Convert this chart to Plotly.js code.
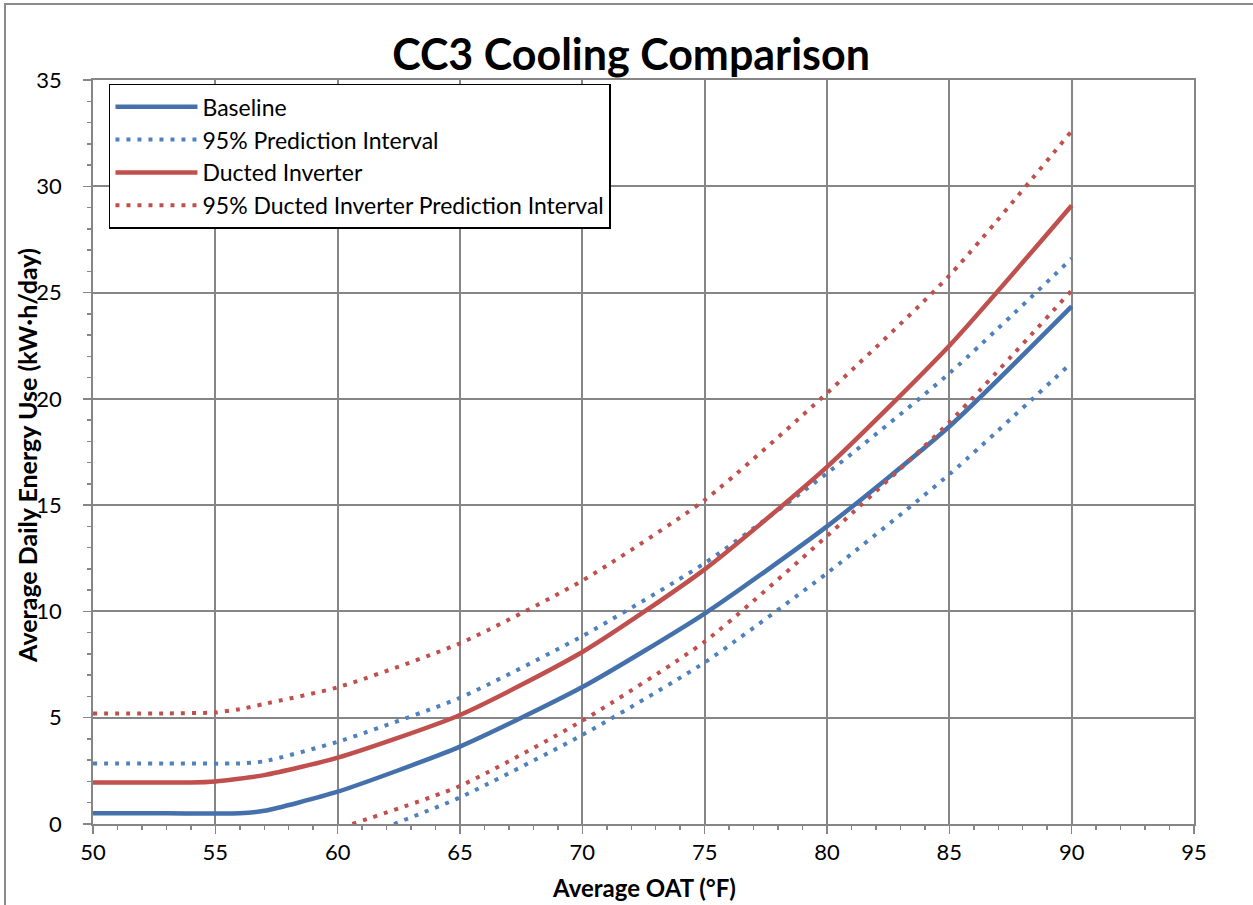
<!DOCTYPE html>
<html>
<head>
<meta charset="utf-8">
<script src="https://cdn.plot.ly/plotly-3.0.1.min.js"></script>
<style>
  html, body { margin: 0; padding: 0; background: #fff; }
  #wrap { position: relative; width: 1253px; height: 905px; overflow: hidden; }
  #frame { position: absolute; left: 4px; top: 3px; width: 1300px; height: 1000px;
           border-left: 2px solid #8a8a8a; border-top: 2px solid #8a8a8a; }
  #chart { position: absolute; left: 0; top: 0; width: 1253px; height: 905px; }
</style>
</head>
<body>
<div id="wrap">
  <div id="frame"></div>
  <div id="chart"></div>
</div>
<script>
// Data (Average OAT °F vs kW·h/day)
const baselineX = [50, 53, 56, 57, 60, 65, 70, 75, 80, 85, 90];
const baselineY = [0.5, 0.5, 0.5, 0.62, 1.52, 3.64, 6.44, 9.9, 14.0, 18.7, 24.35];

const basePIUpperX = [50, 53, 56, 57, 60, 65, 70, 75, 80, 85, 90];
const basePIUpperY = [2.85, 2.85, 2.85, 2.95, 3.87, 5.94, 8.84, 12.27, 16.5, 21.2, 26.6];

const basePILowerX = [62.3, 65, 70, 75, 80, 85, 90];
const basePILowerY = [0, 1.25, 4.19, 7.6, 11.8, 16.45, 21.7];

const ductedX = [50, 52, 54, 55, 57, 60, 65, 70, 75, 80, 85, 90];
const ductedY = [1.95, 1.95, 1.95, 2.0, 2.3, 3.12, 5.13, 8.09, 11.98, 16.8, 22.5, 29.1];

const ductPIUpperX = [50, 53, 55, 56, 57, 60, 65, 70, 75, 80, 85, 90];
const ductPIUpperY = [5.2, 5.2, 5.25, 5.4, 5.65, 6.43, 8.5, 11.45, 15.24, 20.27, 25.8, 32.6];

const ductPILowerX = [60.6, 65, 70, 75, 80, 85, 90];
const ductPILowerY = [0, 1.79, 4.86, 8.58, 13.55, 18.9, 25.1];

const seriesNames = ["Baseline", "95% Prediction Interval", "Ducted Inverter", "95% Ducted Inverter Prediction Interval"];
const chartTitle = "CC3 Cooling Comparison";
const xTitle = "Average OAT (°F)";
const yTitle = "Average Daily Energy Use (kW·h/day)";

const FONT = "Lato, 'Open Sans', sans-serif";
const blueSolid = "#4471AB";
const blueDot = "#4F81BD";
const red = "#C0504D";
const dotDash = "4px,7px";
const SM = 0.6;

const traces = [
  { x: baselineX, y: baselineY, name: seriesNames[0], mode: "lines",
    line: { color: blueSolid, width: 4.5, shape: "spline", smoothing: SM } },
  { x: basePIUpperX, y: basePIUpperY, name: seriesNames[1], mode: "lines",
    line: { color: blueDot, width: 4, dash: dotDash, shape: "spline", smoothing: SM } },
  { x: ductedX, y: ductedY, name: seriesNames[2], mode: "lines",
    line: { color: red, width: 4.5, shape: "spline", smoothing: SM } },
  { x: ductPIUpperX, y: ductPIUpperY, name: seriesNames[3], mode: "lines",
    line: { color: red, width: 4, dash: dotDash, shape: "spline", smoothing: SM } },
  { x: basePILowerX, y: basePILowerY, name: seriesNames[1], mode: "lines", showlegend: false,
    line: { color: blueDot, width: 4, dash: dotDash, shape: "spline", smoothing: SM } },
  { x: ductPILowerX, y: ductPILowerY, name: seriesNames[3], mode: "lines", showlegend: false,
    line: { color: red, width: 4, dash: dotDash, shape: "spline", smoothing: SM } }
];

const axisCommon = {
  showline: true, linecolor: "#868686", linewidth: 2, mirror: true,
  showgrid: true, gridcolor: "#868686", gridwidth: 2,
  ticks: "outside", ticklen: 8, tickwidth: 1.5, tickcolor: "#868686",
  tickfont: { family: FONT, size: 22, color: "#000" },
  zeroline: false,
  minor: { dtick: 1, ticks: "outside", ticklen: 4, tickwidth: 1.5, tickcolor: "#868686", showgrid: false }
};

const layout = {
  width: 1253, height: 905,
  paper_bgcolor: "rgba(0,0,0,0)", plot_bgcolor: "#fff",
  margin: { l: 93, r: 59, t: 80, b: 81 },
  font: { family: FONT, color: "#000" },
  title: { text: "<b>" + chartTitle + "</b>", font: { family: FONT, size: 43, color: "#000" },
           x: 0.4887, xref: "paper", xanchor: "center", y: 1, yref: "container", yanchor: "top", pad: { t: 40 } },
  xaxis: Object.assign({}, axisCommon, { range: [50, 95], dtick: 5, tick0: 50 }),
  yaxis: Object.assign({}, axisCommon, { range: [0, 35], dtick: 5, tick0: 0, ticksuffix: "\u00a0\u00a0\u00a0" }),
  annotations: [
    { text: "<b>" + xTitle + "</b>", xref: "paper", yref: "paper", x: 0.5, y: -0.086,
      xanchor: "center", yanchor: "middle", showarrow: false,
      font: { family: FONT, size: 24, color: "#000" } },
    { text: "<b>" + yTitle + "</b>", xref: "paper", yref: "paper", x: -0.06, y: 0.496,
      xanchor: "center", yanchor: "middle", textangle: -90, showarrow: false,
      font: { family: FONT, size: 25, color: "#000" } }
  ],
  showlegend: true,
  legend: {
    x: 0.0145, y: 0.995, xanchor: "left", yanchor: "top",
    bgcolor: "#fff", bordercolor: "#000", borderwidth: 1.5,
    font: { family: FONT, size: 23, color: "#000" },
    itemwidth: 82, tracegroupgap: 0
  }
};

Plotly.newPlot("chart", traces, layout, { displayModeBar: false, staticPlot: true });
</script>
</body>
</html>
